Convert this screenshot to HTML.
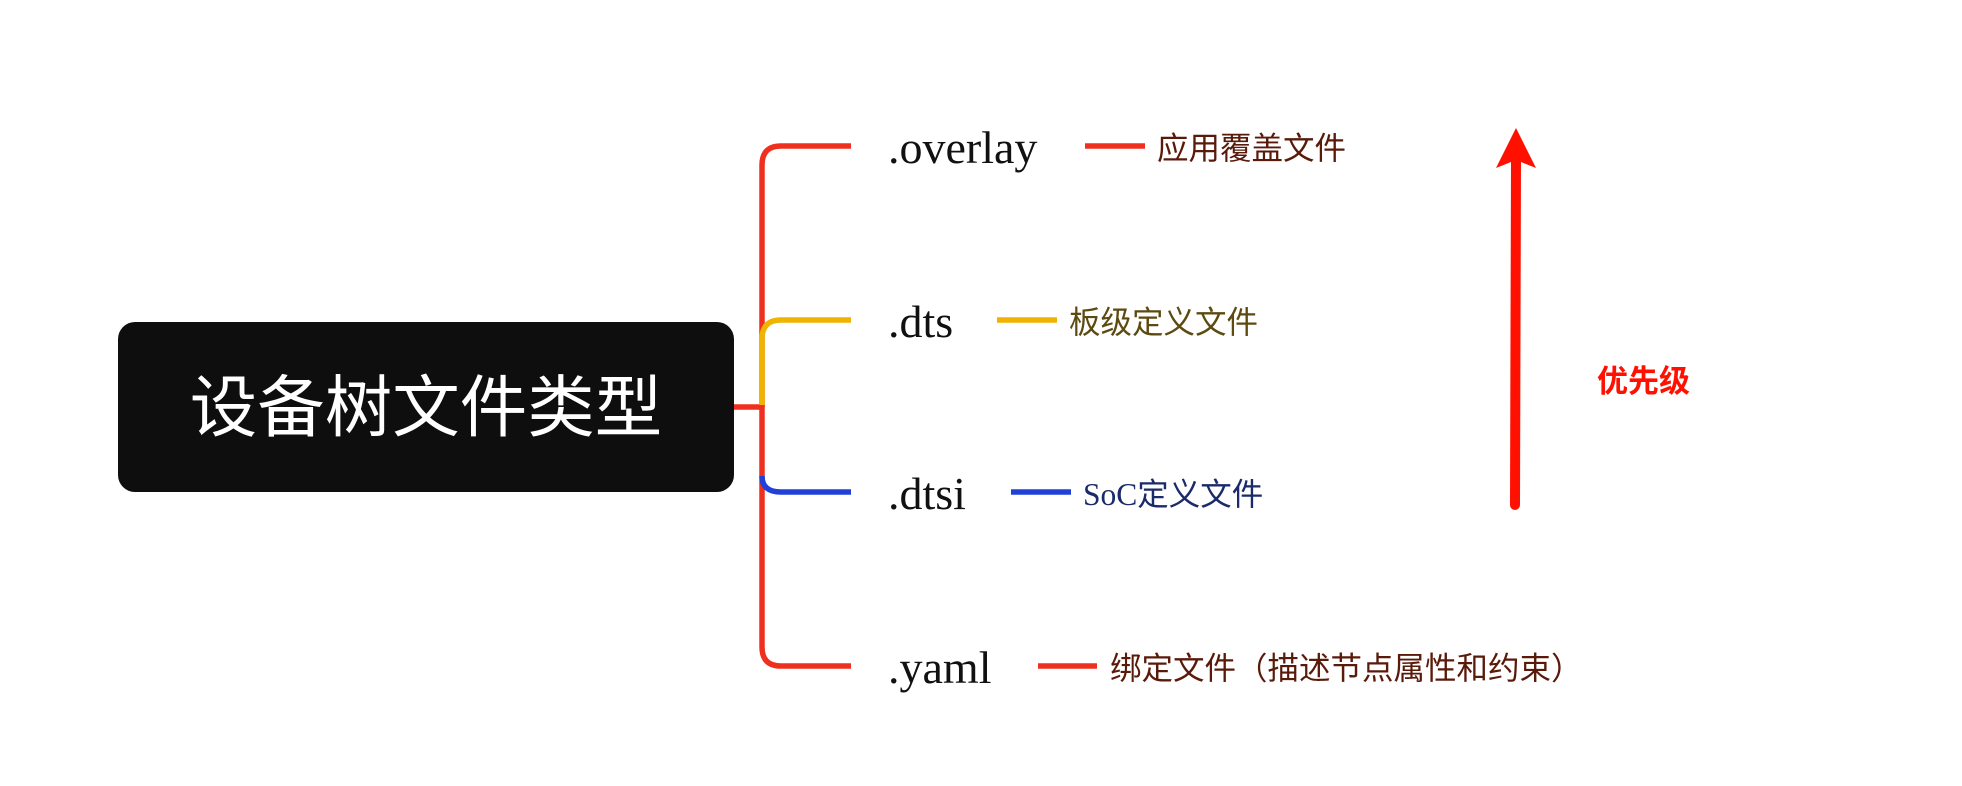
<!DOCTYPE html>
<html><head><meta charset="utf-8"><style>
body{margin:0;width:1962px;height:786px;background:#fff;position:relative;overflow:hidden;font-family:"Liberation Sans","Noto Sans CJK SC",sans-serif}
.t{position:absolute;white-space:nowrap;line-height:1}
.f{font-family:"Liberation Serif","Noto Serif CJK SC",serif;font-size:46px;color:#111}
.l{font-family:"Liberation Serif","Noto Sans CJK SC",sans-serif;font-size:31.5px}
</style></head><body>
<svg width="1962" height="786" style="position:absolute;left:0;top:0">
<rect x="118" y="322" width="616" height="170" rx="17" fill="#0e0e0e"/>
<g fill="none" stroke-width="5.5">
<path d="M734 407 H762" stroke="#f0301e"/>
<path d="M762 407 V165 Q762 146 781 146 H851" stroke="#f0301e"/>
<path d="M762 405 V647 Q762 666 781 666 H851" stroke="#f0301e"/>
<path d="M762 405 V339 Q762 320 781 320 H851" stroke="#f0b400"/>
<path d="M762 476 Q762 492 781 492 H851" stroke="#2040d8"/>
<path d="M1085 146 H1145" stroke="#f0301e"/>
<path d="M997 320 H1057" stroke="#f0b400"/>
<path d="M1011 492 H1071" stroke="#2040d8"/>
<path d="M1038 666 H1097" stroke="#f0301e"/>
</g>
<path d="M1515 505 L1516 160" stroke="#ff1000" stroke-width="10" stroke-linecap="round" fill="none"/>
<path d="M1516 128 L1536 168 L1516 160 L1496 168 Z" fill="#ff1000"/>
</svg>
<div class="t" style="left:118px;width:616px;top:375px;text-align:center;font-size:67.5px;color:#fff">设备树文件类型</div>
<div class="t f" style="left:888px;top:125px">.overlay</div>
<div class="t f" style="left:888px;top:299px">.dts</div>
<div class="t f" style="left:888px;top:471px">.dtsi</div>
<div class="t f" style="left:888px;top:645px">.yaml</div>
<div class="t l" style="left:1157px;top:133px;color:#5a1a0a">应用覆盖文件</div>
<div class="t l" style="left:1069px;top:307px;color:#5c4a10">板级定义文件</div>
<div class="t l" style="left:1083px;top:479px;color:#1a2a6a">SoC定义文件</div>
<div class="t l" style="left:1110px;top:653px;color:#5a1a0a">绑定文件（描述节点属性和约束）</div>
<div class="t" style="left:1597px;top:366px;font-size:31px;font-weight:bold;color:#ff1000">优先级</div>
</body></html>
